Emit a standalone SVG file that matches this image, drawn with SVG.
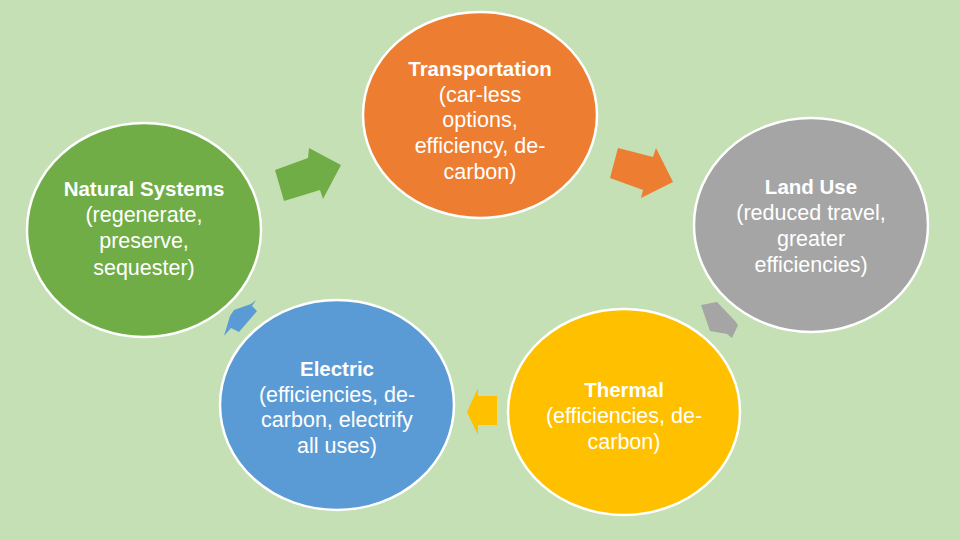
<svg xmlns="http://www.w3.org/2000/svg" width="960" height="540" viewBox="0 0 960 540">
<style>
.c{stroke:#ffffff;stroke-width:2.5}
.t{font-family:"Liberation Sans",Arial,sans-serif;font-size:21.5px;fill:#ffffff;text-anchor:middle}
.b{font-weight:bold;font-size:20.5px}
</style>
<rect width="960" height="540" fill="#C5E0B4"/>
<g id="connectors">
<polygon fill="#70AD47" points="275,170 308,158 309,148 341,165 323,199 320,190 284,201"/>
<polygon fill="#ED7D31" points="618,148 653,157 656,148 673,182 641,198 643,190 610,178"/>
<polygon fill="#A5A5A5" points="701,305 717,302 735,321 738,325 732,338 727,334 710,331"/>
<polygon fill="#FFC000" points="497,396 478,396 478,388 467,412 478,435 478,425 497,425"/>
<polygon fill="#5B9BD5" points="256,300 252,306 257,311 239,332 231,328 224,336 230,316 234,310 251,304"/>
</g>
<g id="natural">
<ellipse class="c" cx="144" cy="230" rx="117" ry="107" fill="#70AD47"/>
<text class="t"><tspan class="b" x="144" y="196">Natural Systems</tspan><tspan x="144" y="222">(regenerate,</tspan><tspan x="144" y="248">preserve,</tspan><tspan x="144" y="275">sequester)</tspan></text>
</g>
<g id="transportation">
<ellipse class="c" cx="480" cy="115" rx="117" ry="103" fill="#ED7D31"/>
<text class="t"><tspan class="b" x="480" y="76">Transportation</tspan><tspan x="480" y="102">(car-less</tspan><tspan x="480" y="127">options,</tspan><tspan x="480" y="153">efficiency, de-</tspan><tspan x="480" y="179">carbon)</tspan></text>
</g>
<g id="landuse">
<ellipse class="c" cx="811" cy="225" rx="117" ry="107" fill="#A5A5A5"/>
<text class="t"><tspan class="b" x="811" y="194">Land Use</tspan><tspan x="811" y="220">(reduced travel,</tspan><tspan x="811" y="246">greater</tspan><tspan x="811" y="272">efficiencies)</tspan></text>
</g>
<g id="electric">
<ellipse class="c" cx="337" cy="405" rx="117" ry="105" fill="#5B9BD5"/>
<text class="t"><tspan class="b" x="337" y="376">Electric</tspan><tspan x="337" y="402">(efficiencies, de-</tspan><tspan x="337" y="427">carbon, electrify</tspan><tspan x="337" y="453">all uses)</tspan></text>
</g>
<g id="thermal">
<ellipse class="c" cx="624" cy="412" rx="116" ry="103" fill="#FFC000"/>
<text class="t"><tspan class="b" x="624" y="397">Thermal</tspan><tspan x="624" y="423">(efficiencies, de-</tspan><tspan x="624" y="449">carbon)</tspan></text>
</g>
</svg>
